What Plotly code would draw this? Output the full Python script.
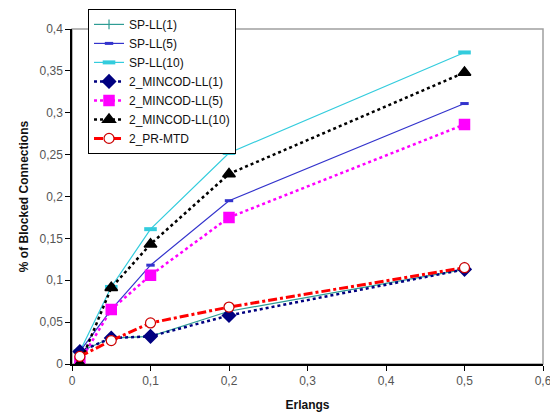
import plotly.graph_objects as go

erlangs = [0.01, 0.05, 0.1, 0.2, 0.5]
sp_ll_1 = [0.015, 0.031, 0.033, 0.063, 0.113]
sp_ll_5 = [0.015, 0.065, 0.118, 0.195, 0.311]
sp_ll_10 = [0.015, 0.092, 0.161, 0.252, 0.372]
mincod_1 = [0.015, 0.031, 0.033, 0.058, 0.113]
mincod_5 = [0.003, 0.065, 0.106, 0.175, 0.286]
mincod_10 = [0.0, 0.091, 0.143, 0.227, 0.348]
pr_mtd = [0.009, 0.028, 0.049, 0.068, 0.115]

x_tickvals = [0, 0.1, 0.2, 0.3, 0.4, 0.5, 0.6]
x_ticktext = ["0", "0,1", "0,2", "0,3", "0,4", "0,5", "0,6"]
y_tickvals = [0, 0.05, 0.1, 0.15, 0.2, 0.25, 0.3, 0.35, 0.4]
y_ticktext = ["0", "0,05", "0,1", "0,15", "0,2", "0,25", "0,3", "0,35", "0,4"]

fig = go.Figure()

def add(name, y, color, width, dash, symbol, size, mline=None, mfill=None, mlw=1.5):
    fig.add_trace(go.Scatter(
        x=erlangs, y=y, name=name, mode="lines+markers",
        line=dict(color=color, width=width, dash=dash),
        marker=dict(symbol=symbol, size=size,
                    color=mfill if mfill is not None else color,
                    line=dict(color=mline if mline else color, width=mlw)),
    ))

add("SP-LL(1)", sp_ll_1, "#2E9C94", 1.2, "solid", "line-ns", 7, mlw=1.2)
add("SP-LL(5)", sp_ll_5, "#3333CC", 1.2, "solid", "line-ew", 6, mlw=3)
add("SP-LL(10)", sp_ll_10, "#33CCDD", 1.2, "solid", "line-ew", 9, mlw=4)
add("2_MINCOD-LL(1)", mincod_1, "#000080", 2.5, "dot", "diamond", 10)
add("2_MINCOD-LL(5)", mincod_5, "#FF00FF", 2.5, "dot", "square", 10)
add("2_MINCOD-LL(10)", mincod_10, "#000000", 2.5, "dot", "triangle-up", 11)
add("2_PR-MTD", pr_mtd, "#FF0000", 3, "dashdot", "circle", 10, mline="#CC0000", mfill="white", mlw=1.2)

fig.add_shape(type="rect", xref="paper", yref="paper", x0=0, y0=0, x1=1, y1=1,
              line=dict(color="#A0A0A0", width=1.5), layer="below")

# page body has an 8px default margin; figure is sized to compensate
fig.update_layout(
    width=550, height=404,
    margin=dict(l=64, r=15, t=21, b=48, autoexpand=False),
    paper_bgcolor="white", plot_bgcolor="white",
    font=dict(family="Liberation Sans, Arial, sans-serif", size=11, color="#333333"),
    showlegend=True,
    legend=dict(x=0.034, y=1.06, xanchor="left", yanchor="top",
                bgcolor="white", bordercolor="black", borderwidth=1,
                font=dict(size=12, color="#111111"), tracegroupgap=0,
                itemwidth=30),
    xaxis=dict(range=[0, 0.6], tickvals=x_tickvals, ticktext=x_ticktext,
               showgrid=False, zeroline=False, showline=True, linecolor="black",
               linewidth=1.5, ticks="outside", ticklen=5, tickcolor="black",
               automargin=False,
               tickfont=dict(size=12, color="#555555"),
               title=dict(text="<b>Erlangs</b>", font=dict(size=12, color="#111111"), standoff=13)),
    yaxis=dict(range=[0, 0.4], tickvals=y_tickvals, ticktext=y_ticktext,
               showgrid=False, zeroline=False, showline=True, linecolor="black",
               linewidth=1.5, ticks="outside", ticklen=5, tickcolor="black",
               automargin=False,
               tickfont=dict(size=12, color="#555555"),
               title=dict(text="<b>% of Blocked Connections</b>", font=dict(size=12, color="#111111"), standoff=8)),
)

fig.write_html("out.html")
